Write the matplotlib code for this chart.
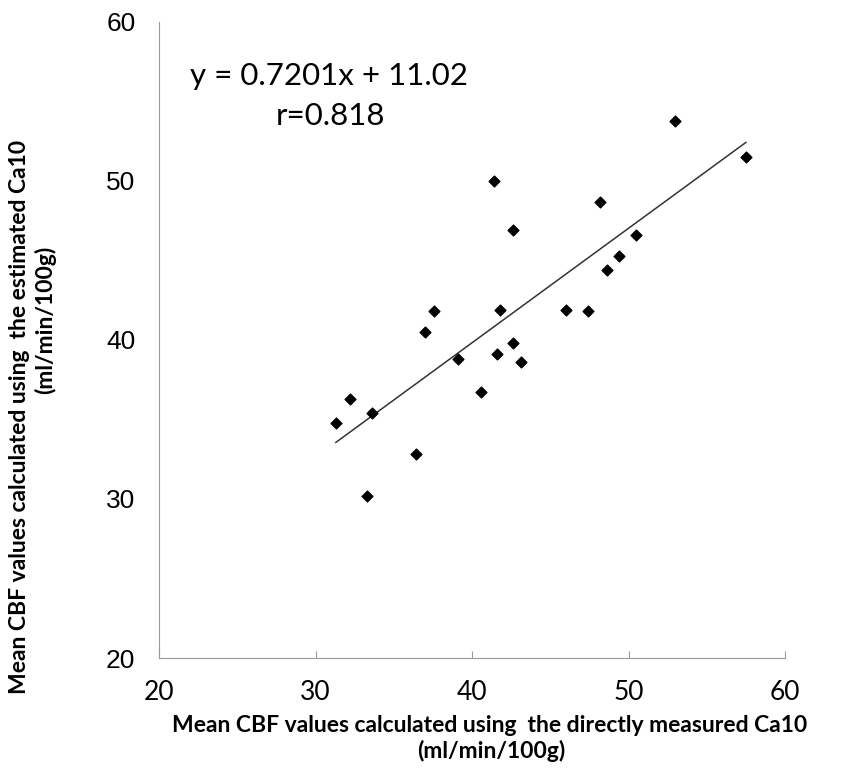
import numpy as np
import matplotlib
matplotlib.use('Agg')
import matplotlib.pyplot as plt

# Mean CBF (ml/min/100g): directly measured Ca10 (x) vs estimated Ca10 (y)
cbf_measured = [31.3, 32.2, 33.6, 33.3, 36.4, 37.0, 37.6, 39.1, 40.6, 41.4, 41.6, 41.8,
                42.6, 42.6, 43.1, 46.0, 47.4, 48.2, 48.6, 49.4, 50.5, 53.0, 57.5]
cbf_estimated = [34.8, 36.3, 35.4, 30.2, 32.8, 40.5, 41.8, 38.8, 36.7, 50.0, 39.1, 41.9,
                 46.9, 39.8, 38.6, 41.9, 41.8, 48.7, 44.4, 45.3, 46.6, 53.8, 51.5]

# regression line as printed on the chart
slope = 0.7201
intercept = 11.02
r_value = 0.818

ticks = [20, 30, 40, 50, 60]

fig = plt.figure(figsize=(8.57, 7.70), dpi=100)
ax = fig.add_axes([159 / 857, 1 - 658 / 770, 626 / 857, 636 / 770])

ax.scatter(cbf_measured, cbf_estimated, marker='D', s=30, color='black', zorder=3)

xs = np.array([min(cbf_measured), max(cbf_measured)])
ax.plot(xs, slope * xs + intercept, color='#333333', linewidth=1.1)

ax.set_xlim(20, 60)
ax.set_ylim(20, 60)
ax.set_xticks(ticks)
ax.set_yticks(ticks)

for side in ['top', 'right']:
    ax.spines[side].set_visible(False)
for side in ['left', 'bottom']:
    ax.spines[side].set_color('#9a9a9a')
    ax.spines[side].set_linewidth(0.8)

ax.tick_params(axis='x', direction='in', length=5, width=0.8, color='#9a9a9a', pad=16)
ax.tick_params(axis='y', length=0, pad=17)
for lbl in ax.get_xticklabels():
    lbl.set_fontfamily('Lato')
    lbl.set_fontsize(19)
for lbl in ax.get_yticklabels():
    lbl.set_fontfamily('Liberation Sans')
    lbl.set_fontsize(19)

fig.text(190 / 857, 1 - 76 / 770, f'y = {slope}x + {intercept}',
         fontfamily='Lato', fontsize=22.5, ha='left', va='center')
fig.text(331 / 857, 1 - 116 / 770, f'r={r_value}',
         fontfamily='Lato', fontsize=22.5, ha='center', va='center')

# axis titles (two lines each)
fig.text(490 / 857, 1 - 726 / 770, 'Mean CBF values calculated using  the directly measured Ca10',
         fontfamily='Lato', fontweight='bold', fontsize=16.5, ha='center', va='center')
fig.text(491 / 857, 1 - 751 / 770, '(ml/min/100g)',
         fontfamily='Lato', fontweight='bold', fontsize=16.5, ha='center', va='center')
fig.text(20 / 857, 1 - 417 / 770, 'Mean CBF values calculated using  the estimated Ca10',
         fontfamily='Lato', fontweight='bold', fontsize=16.5, ha='center', va='center', rotation=90)
fig.text(45 / 857, 1 - 320 / 770, '(ml/min/100g)',
         fontfamily='Lato', fontweight='bold', fontsize=16.5, ha='center', va='center', rotation=90)

fig.savefig('out.png', dpi=100)
